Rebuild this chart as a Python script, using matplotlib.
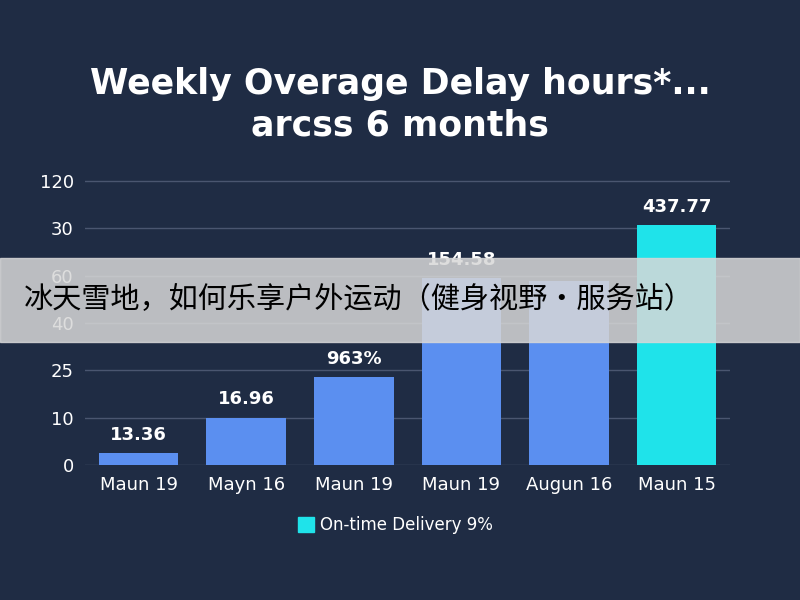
import matplotlib
matplotlib.use("Agg")
import matplotlib.pyplot as plt

categories = ["Maun 19", "Mayn 16", "Maun 19", "Maun 19", "Augun 16", "Maun 15"]
heights = [0.25, 1.0, 1.85, 3.95, 3.9, 5.07]
value_labels = ["13.36", "16.96", "963%", "154.58", "", "437.77"]
ytick_labels = ["0", "10", "25", "40", "60", "30", "120"]
bar_colors = ["#5b8ff0"] * 5 + ["#1fe3ea"]

bg = "#1f2c44"
fig = plt.figure(figsize=(8, 6), dpi=100, facecolor=bg)
ax = fig.add_axes([0.106, 0.225, 0.807, 0.477], facecolor=bg)
x = list(range(len(categories)))
ax.bar(x, heights, width=0.74, color=bar_colors, zorder=3)
ax.set_xlim(-0.5, 5.5)
ax.set_ylim(0, 6.05)
ax.set_yticks(range(7))
ax.set_yticklabels(ytick_labels, color="white", fontsize=13)
ax.set_xticks(x)
ax.set_xticklabels(categories, color="white", fontsize=13)
ax.grid(axis="y", color="#4a5670", lw=1, zorder=0)
for s in ax.spines.values():
    s.set_visible(False)
ax.tick_params(length=0, pad=8)
for xi, h, t in zip(x, heights, value_labels):
    if t:
        ax.text(xi, h + 0.2, t, ha="center", va="bottom", color="white", fontsize=13, fontweight="bold")

fig.text(0.5, 0.86, "Weekly Overage Delay hours*...", ha="center", va="center", color="white",
         fontsize=25, fontweight="semibold")
fig.text(0.5, 0.79, "arcss 6 months", ha="center", va="center", color="white",
         fontsize=25, fontweight="semibold")

fig.patches.append(plt.Rectangle((0.372, 0.113), 0.02, 0.025, transform=fig.transFigure, color="#1fe3ea"))
fig.text(0.4, 0.125, "On-time Delivery 9%", color="white", fontsize=12, va="center")

fig.patches.append(plt.Rectangle((0, 0.43), 1, 0.14, transform=fig.transFigure, color="#d8d8d8", alpha=0.85, zorder=10))
fig.text(0.03, 0.5, "冰天雪地，如何乐享户外运动（健身视野·服务站）", fontsize=21, color="black", va="center",
         family=["Noto Sans CJK SC", "DejaVu Sans"], zorder=11)

fig.savefig("out.png", facecolor=bg)
